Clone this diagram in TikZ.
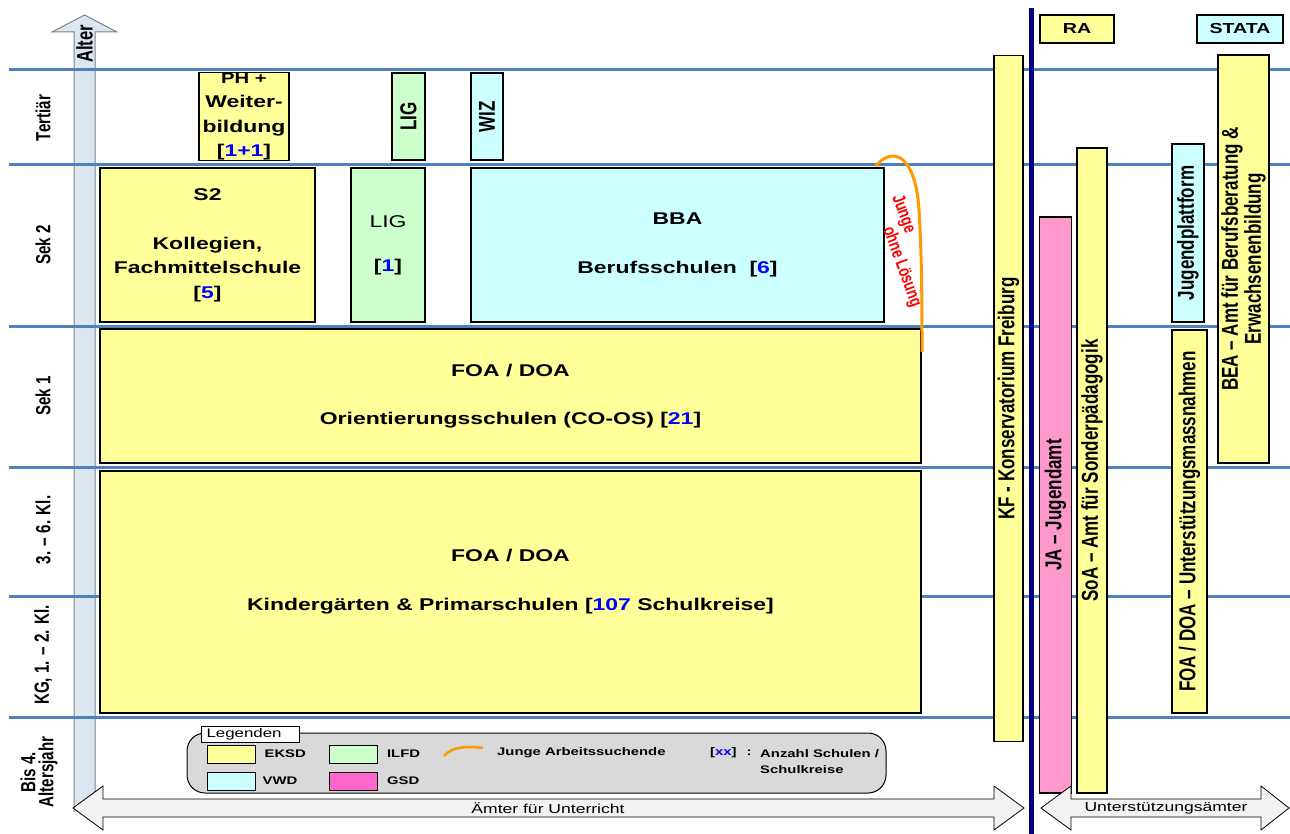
\documentclass[tikz,border=0pt]{standalone}
\usepackage{fontspec}
\setmainfont{Liberation Sans}[FakeStretch=1.35]
\newfontfamily\tallfont{Liberation Sans}[FakeStretch=0.74]
\usetikzlibrary{positioning}
\definecolor{eksd}{HTML}{FFFF99}
\definecolor{ilfd}{HTML}{CCFFCC}
\definecolor{vwd}{HTML}{CCFFFF}
\definecolor{gsd}{HTML}{FF66CC}
\definecolor{japink}{HTML}{FF99CC}
\definecolor{levelblue}{HTML}{4F81BD}
\definecolor{navyline}{HTML}{000080}
\definecolor{orangeline}{HTML}{FF9900}
\definecolor{numblue}{HTML}{0000FF}
\definecolor{legendgrey}{HTML}{D9D9D9}
\definecolor{alterband}{HTML}{DCE6F2}
\definecolor{arrowgrey}{HTML}{F2F2F2}

\newcommand{\anz}[1]{[\textcolor{numblue}{#1}]}
\newcommand{\boxfont}{\bfseries\fontsize{17}{24.5}\selectfont}
\newcommand{\barfont}{\tallfont\bfseries\fontsize{23}{23}\selectfont}
\newcommand{\sidefont}{\tallfont\bfseries\fontsize{20.5}{18}\selectfont}
\newcommand{\legfont}{\bfseries\fontsize{11}{16.5}\selectfont}

\begin{document}
\begin{tikzpicture}[x=1pt, y=-1pt,
  levelline/.style={draw=levelblue, line width=3pt},
  schoolbox/.style={draw, line width=1.5pt, align=center, inner sep=0pt, font=\boxfont},
  officebar/.style={draw, line width=1.5pt, rotate=90, align=center, inner sep=0pt, font=\barfont},
  headbox/.style={draw, line width=1.5pt, inner sep=0pt, font=\bfseries\fontsize{14.5}{15}\selectfont},
  levellabel/.style={rotate=90, align=center, inner sep=0pt, font=\sidefont},
  swatch/.style={draw, line width=0.8pt, minimum width=48pt, minimum height=18pt, inner sep=0pt},
  legtext/.style={anchor=west, inner sep=0pt, font=\legfont},
  junge/.style={rotate=-70, align=left, inner sep=0pt, text=red, font=\tallfont\bfseries\fontsize{18}{19.5}\selectfont},
  bigarrow/.style={draw, line width=0.8pt, fill=arrowgrey},
  arrowtext/.style={inner sep=0pt, font=\mdseries\fontsize{13}{13}\selectfont}]
\useasboundingbox (0,0) rectangle (1290,834);

% Altersachse
\draw[draw=gray, line width=1pt, fill=alterband] (74,812) -- (74,32) -- (52,32) -- (84.5,15) -- (117,32) -- (95,32) -- (95,812);
\node[rotate=90, inner sep=0pt, font=\tallfont\bfseries\fontsize{22.5}{22.5}\selectfont] (alter) at (84.5,44) {Alter};

% Stufen
\foreach \y in {70,165,326,467,596,717}
  \draw[levelline] (9,\y) -- (1290,\y);
\node[levellabel] (tertiaer) at (43,118) {Tertiär};
\node[levellabel] (sek2) at (43,245) {Sek 2};
\node[levellabel] (sek1l) at (43,396) {Sek 1};
\node[levellabel] (kl36) at (43,530) {3. – 6. Kl.};
\node[levellabel] (kl12) at (43,655) {KG, 1. – 2. Kl.};
\node[levellabel] (bis4) at (39,772) {Bis 4.\\Altersjahr};

% Tertiär
\node[schoolbox, fill=eksd, minimum width=90pt, minimum height=88pt] (ph) at (244,116.5) {\fontsize{15}{21}\selectfont PH +\\Weiter-\\bildung\\\anz{1+1}};
\node[officebar, fill=ilfd, minimum width=87pt, minimum height=33pt] (ligt) at (408.5,116.5) {LIG};
\node[officebar, fill=vwd, minimum width=87pt, minimum height=32pt] (wiz) at (487,116.5) {WIZ};

% Schulen
\node[schoolbox, fill=eksd, minimum width=215pt, minimum height=154pt] (s2) at (207.5,245) {S2\\[24.5pt]Kollegien,\\Fachmittelschule\\\anz{5}};
\node[schoolbox, fill=ilfd, minimum width=74pt, minimum height=154pt] (lig) at (388,245) {{\mdseries LIG}\\[19.5pt]\anz{1}};
\node[schoolbox, fill=vwd, minimum width=413pt, minimum height=154pt] (bba) at (677.5,245) {BBA\\[24.5pt]Berufsschulen~~\anz{6}};
\node[schoolbox, fill=eksd, minimum width=821pt, minimum height=134pt] (sek1) at (510.5,396) {FOA / DOA\\[24pt]Orientierungsschulen (CO-OS) \anz{21}};
\node[schoolbox, fill=eksd, minimum width=821pt, minimum height=242pt] (prim) at (510.5,592) {FOA / DOA\\[24.5pt]Kindergärten \& Primarschulen [\textcolor{numblue}{107} Schulkreise]\\[0pt]\mbox{}};

% Junge ohne Lösung
\draw[orangeline, line width=3pt] (876,166) .. controls (890,148) and (915,150) .. (919,210) .. controls (922,260) and (922,310) .. (922,352);
\node[junge] (junge) at (906,251) {Junge\\\hspace*{27pt}ohne Lösung};

% Trennlinie
\coordinate (divtop) at (1031,8);
\coordinate (divbot) at (1031,834);
\draw[navyline, line width=5pt] (divtop) -- (divbot);

% Ämter
\node[officebar, fill=eksd, minimum width=686pt, minimum height=29pt] (kf) at (1008.5,398.5) {KF - Konservatorium Freiburg};
\node[headbox, fill=eksd, minimum width=74pt, minimum height=28pt] (ra) at (1077,29) {RA};
\node[headbox, fill=vwd, minimum width=86pt, minimum height=28pt] (stata) at (1240,29) {STATA};
\node[officebar, fill=japink, minimum width=576pt, minimum height=32pt] (ja) at (1055.5,505) {JA – Jugendamt};
\node[officebar, fill=eksd, minimum width=645pt, minimum height=30pt] (soa) at (1092,470.5) {SoA – Amt für Sonderpädagogik};
\node[officebar, fill=vwd, minimum width=178pt, minimum height=32pt] (jplat) at (1188,233) {Jugendplattform};
\node[officebar, fill=eksd, minimum width=383pt, minimum height=35pt] (foasup) at (1189.5,521.5) {FOA / DOA – Unterstützungsmassnahmen};
\node[officebar, fill=eksd, minimum width=408pt, minimum height=51pt] (bea) at (1243.5,259) {BEA – Amt für Berufsberatung \&\\Erwachsenenbildung};

% Legende
\node[draw, line width=1pt, fill=legendgrey, rounded corners=18pt, minimum width=699pt, minimum height=60pt] (legend) at (536.5,763) {};
\node[draw, line width=1pt, fill=white, anchor=west, text width=88pt, inner xsep=5pt, inner ysep=0pt, minimum height=16pt, font=\mdseries\fontsize{12.5}{13}\selectfont] (legtitle) at (201,734) {Legenden};
\node[swatch, fill=eksd] (sw-eksd) at (231,754) {};
\node[legtext, right=9pt of sw-eksd] (lt-eksd) {EKSD};
\node[swatch, fill=vwd] (sw-vwd) at (231,781) {};
\node[legtext, right=7pt of sw-vwd] (lt-vwd) {VWD};
\node[swatch, fill=ilfd] (sw-ilfd) at (353.5,754) {};
\node[legtext, right=9pt of sw-ilfd] (lt-ilfd) {ILFD};
\node[swatch, fill=gsd] (sw-gsd) at (353.5,781) {};
\node[legtext, right=9pt of sw-gsd] (lt-gsd) {GSD};
\draw[orangeline, line width=2.5pt] (444,756) .. controls (452,746) and (470,746) .. (483,748);
\node[legtext] (lt-junge) at (497,753) {Junge Arbeitssuchende};
\node[legtext] (lt-xx) at (710,753) {\anz{xx}\hspace{10pt}:};
\node[legtext, align=left] (lt-anzahl) at (760,761.5) {Anzahl Schulen /\\Schulkreise};

% Pfeile unten
\draw[bigarrow] (73,808) -- (103,786) -- (103,799) -- (994,799) -- (994,786) -- (1024,808) -- (994,830) -- (994,817) -- (103,817) -- (103,830) -- cycle;
\node[arrowtext] (unterricht) at (548,808) {Ämter für Unterricht};
\draw[bigarrow] (1041,808) -- (1071,786) -- (1071,799) -- (1261,799) -- (1261,786) -- (1289,808) -- (1261,830) -- (1261,817) -- (1071,817) -- (1071,830) -- cycle;
\node[arrowtext] (unterstuetzung) at (1166,808) {Unterstützungsämter};
\end{tikzpicture}
\end{document}
